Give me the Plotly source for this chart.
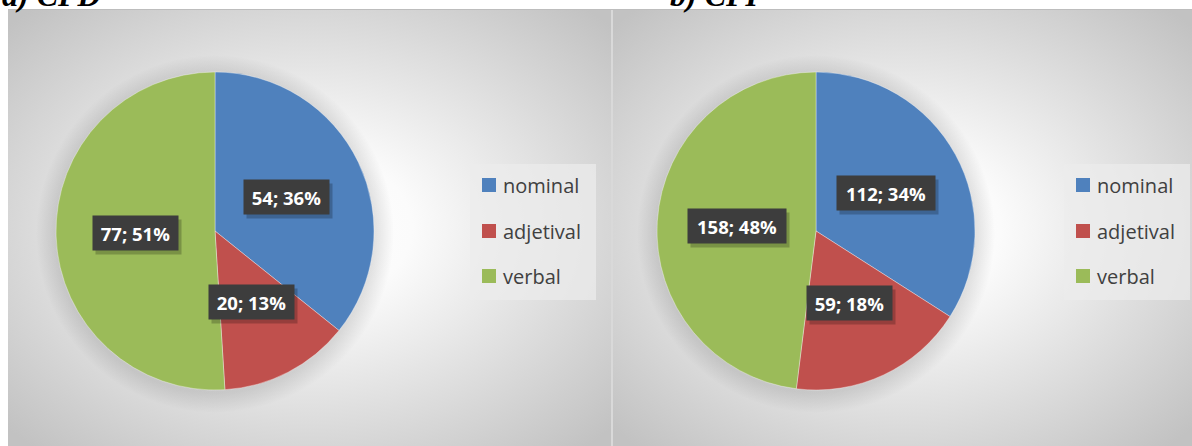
import math
import base64
import plotly.graph_objects as go

# ---------------- data ----------------
categories = ["nominal", "adjetival", "verbal"]
cpd_values = [54, 20, 77]
cpi_values = [112, 59, 158]
panel_titles = ["a) CPD", "b) CPI"]
colors = ["#4F81BD", "#C0504D", "#9BBB59"]

# ---------------- layout constants (pixels) ----------------
W, H = 1192, 446
R = 159
pie_centers = [(215, 231), (816, 231)]
legend_boxes = [(470, 164, 596, 300), (1064, 164, 1190, 300)]
row_y = [185, 231, 276]


def px(x):
    return x / W


def py(y):
    return 1 - y / H


# ---------------- background (radial gradients) ----------------
svg = f'''<svg xmlns="http://www.w3.org/2000/svg" width="{W}" height="{H}" viewBox="0 0 {W} {H}">
<defs>
<radialGradient id="g" cx="50%" cy="50%" r="68%">
<stop offset="0" stop-color="#ffffff"/>
<stop offset="0.25" stop-color="#fbfbfb"/>
<stop offset="1" stop-color="#c2c2c2"/>
</radialGradient>
'''
for i, (cx, cy) in enumerate(pie_centers):
    svg += f'''<radialGradient id="s{i}" gradientUnits="userSpaceOnUse" cx="{cx}" cy="{cy+3}" r="{R+20}">
<stop offset="{R/(R+20):.3f}" stop-color="#000000" stop-opacity="0.11"/>
<stop offset="1" stop-color="#000000" stop-opacity="0"/>
</radialGradient>
'''
svg += f'''</defs>
<rect x="0" y="0" width="{W}" height="{H}" fill="#ffffff"/>
<rect x="8" y="9" width="603" height="437" fill="url(#g)"/>
<rect x="611" y="9" width="2" height="437" fill="#d9d9d9"/>
<rect x="613" y="9" width="579" height="437" fill="url(#g)"/>
<rect x="8" y="9" width="1184" height="1" fill="#bdbdbd"/>
'''
for i, (cx, cy) in enumerate(pie_centers):
    svg += f'<circle cx="{cx}" cy="{cy+3}" r="{R+20}" fill="url(#s{i})"/>\n'
svg += '</svg>'
bg_uri = "data:image/svg+xml;base64," + base64.b64encode(svg.encode()).decode()

fig = go.Figure()

annotations = []
shapes = []

for k, (values, (cx, cy)) in enumerate(zip([cpd_values, cpi_values], pie_centers)):
    fig.add_trace(go.Pie(
        labels=categories,
        values=values,
        sort=False,
        direction="clockwise",
        rotation=0,
        marker=dict(colors=colors, line=dict(color="rgba(255,255,255,0.45)", width=0.8)),
        textinfo="none",
        hoverinfo="label+value+percent",
        showlegend=False,
        domain=dict(x=[px(cx - R), px(cx + R)], y=[py(cy + R), py(cy - R)]),
    ))

    total = sum(values)
    cum = 0
    for v in values:
        mid = (cum + v / 2) / total * 2 * math.pi
        cum += v
        lx = cx + 0.5 * R * math.sin(mid)
        ly = cy - 0.5 * R * math.cos(mid)
        txt = f"{v}; {round(100 * v / total)}%"
        bw = round(12.2 * len(txt))
        # shadow box
        annotations.append(dict(
            x=px(lx), y=py(ly), xref="paper", yref="paper", showarrow=False,
            xanchor="center", yanchor="middle",
            text="&nbsp;", width=bw, height=34, borderpad=0,
            bgcolor="rgba(0,0,0,0.22)", xshift=3, yshift=-4,
            font=dict(family="Open Sans", size=18, color="rgba(0,0,0,0)"),
        ))
        annotations.append(dict(
            x=px(lx), y=py(ly), xref="paper", yref="paper", showarrow=False,
            xanchor="center", yanchor="middle",
            text=txt, width=bw, height=34, borderpad=0,
            bgcolor="#3d3d3d",
            font=dict(family="Open Sans", size=18.5, color="#ffffff", weight="bold"),
        ))

    # manual legend
    x0, y0, x1, y1 = legend_boxes[k]
    shapes.append(dict(type="rect", xref="paper", yref="paper",
                       x0=px(x0), x1=px(x1), y0=py(y1), y1=py(y0),
                       fillcolor="rgba(236,236,236,0.73)", line=dict(width=0), layer="above"))
    for name, col, ry in zip(categories, colors, row_y):
        sx = x0 + 12
        shapes.append(dict(type="rect", xref="paper", yref="paper",
                           x0=px(sx), x1=px(sx + 14), y0=py(ry + 7), y1=py(ry - 7),
                           fillcolor=col, line=dict(width=0), layer="above"))
        annotations.append(dict(
            x=px(sx + 19), y=py(ry), xref="paper", yref="paper", showarrow=False,
            xanchor="left", yanchor="middle", text=name,
            font=dict(family="Open Sans", size=20, color="#404040"),
        ))

# partially cut-off panel titles
title_x = [0, 668]
for t, tx in zip(panel_titles, title_x):
    annotations.append(dict(
        x=px(tx), y=py(-5), xref="paper", yref="paper", showarrow=False,
        xanchor="left", yanchor="middle", text=t,
        font=dict(family="Liberation Serif", size=32, color="#000000",
                  weight="bold", style="italic"),
    ))

fig.update_layout(
    width=W, height=H,
    margin=dict(l=0, r=0, t=0, b=0),
    paper_bgcolor="#ffffff",
    plot_bgcolor="rgba(0,0,0,0)",
    images=[dict(source=bg_uri, xref="paper", yref="paper", x=0, y=1,
                 sizex=1, sizey=1, xanchor="left", yanchor="top",
                 sizing="stretch", layer="below")],
    shapes=shapes,
    annotations=annotations,
)

fig.write_html("out.html",
               config={"displayModeBar": False},
               post_script="document.body.style.margin='0';document.body.style.overflow='hidden';")
